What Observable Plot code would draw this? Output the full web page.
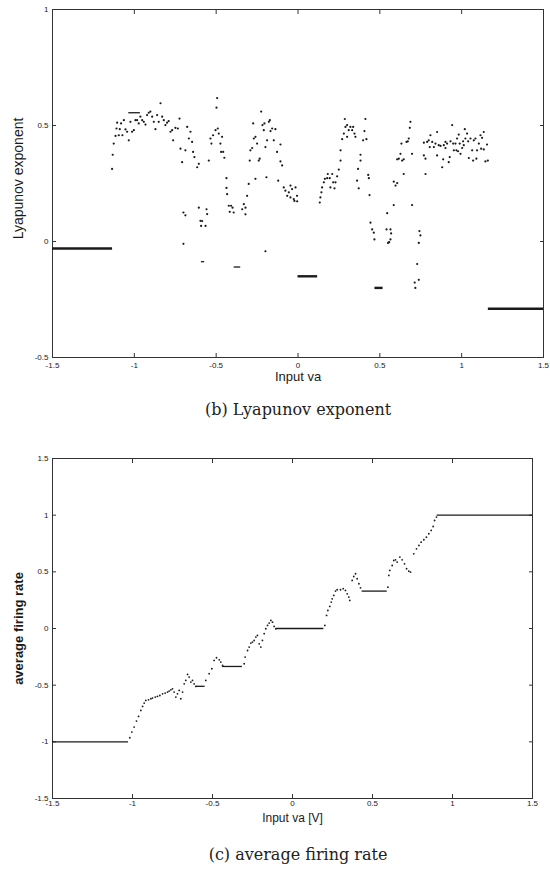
<!DOCTYPE html>
<html><head><meta charset="utf-8">
<script src="https://cdn.jsdelivr.net/npm/d3@7"></script>
<script src="https://cdn.jsdelivr.net/npm/@observablehq/plot@0.6"></script>
<style>
body{margin:0;background:#fff;}
#wrap{position:relative;width:550px;height:876px;overflow:hidden;background:#fff;}
.panel{position:absolute;left:0;}
.cap{position:absolute;left:0;width:596px;text-align:center;font-family:"DejaVu Serif","Liberation Serif",serif;font-size:16px;color:#222;line-height:20px;}
</style></head><body>
<div id="wrap">
  <div class="panel" id="pb" style="top:0"></div>
  <div class="cap" style="top:400px">(b) Lyapunov exponent</div>
  <div class="panel" id="pc" style="top:440px"></div>
  <div class="cap" style="top:845px">(c) average firing rate</div>
</div>
<script>
// ---- data ----
const xTicks = [-1.5, -1, -0.5, 0, 0.5, 1, 1.5];
const lyapTicks = [-0.5, 0, 0.5, 1];
const rateTicks = [-1.5, -1, -0.5, 0, 0.5, 1, 1.5];

// Lyapunov exponent scatter: [input va, exponent]
const lyapPoints = [
[-1.136,0.313],[-1.132,0.374],[-1.126,0.422],[-1.115,0.455],[-1.109,0.487],[-1.105,0.512],
[-1.095,0.458],[-1.089,0.484],[-1.081,0.509],[-1.073,0.458],[-1.064,0.523],[-1.054,0.483],
[-1.044,0.473],[-1.034,0.436],[-1.024,0.516],[-1.014,0.473],[-1.003,0.48],[-0.993,0.523],
[-0.983,0.523],[-0.973,0.509],[-0.963,0.538],[-0.952,0.523],[-0.942,0.516],[-0.932,0.504],
[-0.922,0.545],[-0.912,0.555],[-0.902,0.56],[-0.891,0.538],[-0.881,0.516],[-0.871,0.484],
[-0.861,0.545],[-0.851,0.516],[-0.84,0.596],[-0.83,0.538],[-0.82,0.523],[-0.81,0.502],
[-0.8,0.512],[-0.79,0.519],[-0.779,0.473],[-0.769,0.48],[-0.763,0.436],[-0.749,0.49],
[-0.734,0.487],[-0.724,0.53],[-0.718,0.4],[-0.708,0.342],[-0.70,0.125],[-0.70,-0.01],
[-0.688,0.393],[-0.688,0.113],[-0.677,0.494],[-0.667,0.444],[-0.657,0.473],[-0.647,0.429],
[-0.641,0.386],[-0.633,0.364],[-0.616,0.32],[-0.606,0.335],[-0.606,0.146],[-0.596,0.089],
[-0.592,0.067],[-0.586,0.088],[-0.565,0.067],[-0.559,0.139],[-0.555,0.118],[-0.545,0.349],
[-0.535,0.444],[-0.529,0.422],[-0.519,0.458],[-0.504,0.48],[-0.498,0.577],[-0.494,0.618],
[-0.49,0.487],[-0.484,0.465],[-0.474,0.422],[-0.47,0.386],[-0.464,0.451],[-0.457,0.386],
[-0.45,0.361],[-0.437,0.273],[-0.437,0.231],[-0.433,0.204],[-0.423,0.154],[-0.417,0.128],
[-0.409,0.154],[-0.4,0.146],[-0.393,0.125],[-0.341,0.139],[-0.331,0.161],[-0.321,0.146],
[-0.321,0.117],[-0.311,0.197],[-0.301,0.248],[-0.295,0.349],[-0.291,0.393],[-0.28,0.403],
[-0.274,0.509],[-0.27,0.444],[-0.26,0.451],[-0.26,0.27],[-0.25,0.422],[-0.24,0.349],
[-0.234,0.357],[-0.225,0.56],[-0.217,0.502],[-0.209,0.48],[-0.205,0.509],[-0.199,0.407],
[-0.199,-0.042],[-0.193,0.277],[-0.189,0.436],[-0.178,0.516],[-0.172,0.523],[-0.168,0.476],
[-0.158,0.487],[-0.148,0.436],[-0.138,0.484],[-0.128,0.386],[-0.121,0.262],[-0.107,0.418],
[-0.107,0.345],[-0.097,0.328],[-0.087,0.233],[-0.077,0.219],[-0.066,0.197],[-0.056,0.212],
[-0.046,0.19],[-0.046,0.241],[-0.036,0.226],[-0.026,0.183],[-0.022,0.175],[-0.015,0.233],
[-0.006,0.197],[-0.005,0.173],
[0.133,0.168],[0.137,0.19],[0.143,0.212],[0.147,0.233],[0.158,0.255],[0.164,0.27],
[0.178,0.273],[0.182,0.291],[0.194,0.273],[0.198,0.233],[0.209,0.291],[0.215,0.255],
[0.223,0.229],[0.229,0.255],[0.239,0.281],[0.249,0.31],[0.26,0.349],[0.26,0.393],
[0.27,0.441],[0.28,0.465],[0.286,0.528],[0.29,0.494],[0.3,0.502],[0.3,0.451],
[0.31,0.48],[0.32,0.494],[0.331,0.48],[0.337,0.494],[0.345,0.465],[0.351,0.451],
[0.361,0.262],[0.367,0.313],[0.371,0.229],[0.382,0.374],[0.382,0.349],[0.398,0.436],
[0.406,0.476],[0.412,0.528],[0.418,0.441],[0.429,0.287],[0.433,0.273],[0.437,0.2],
[0.443,0.081],[0.453,0.052],[0.463,0.038],[0.467,0.009],[0.541,0.052],[0.545,0.122],
[0.55,-0.006],[0.557,-0.003],[0.565,0.052],[0.565,0.009],[0.569,0.035],[0.585,0.157],
[0.585,0.258],[0.596,0.241],[0.606,0.252],[0.606,0.354],[0.616,0.357],[0.626,0.378],
[0.632,0.422],[0.636,0.349],[0.646,0.354],[0.646,0.291],[0.663,0.429],[0.671,0.432],
[0.677,0.444],[0.683,0.49],[0.687,0.516],[0.697,0.378],[0.697,0.157],[0.713,-0.177],
[0.717,-0.2],[0.728,-0.097],[0.738,-0.165],[0.738,-0.006],[0.742,0.045],[0.748,0.026],
[0.769,0.371],[0.769,0.426],[0.779,0.357],[0.779,0.291],[0.789,0.429],[0.799,0.436],
[0.805,0.407],[0.809,0.458],[0.82,0.429],[0.83,0.407],[0.84,0.422],[0.85,0.472],
[0.85,0.371],[0.86,0.415],[0.871,0.412],[0.881,0.32],[0.887,0.354],[0.891,0.415],
[0.901,0.429],[0.901,0.403],[0.911,0.422],[0.921,0.342],[0.927,0.364],[0.932,0.432],
[0.942,0.502],[0.948,0.422],[0.952,0.393],[0.962,0.422],[0.968,0.393],[0.972,0.444],
[0.978,0.389],[0.982,0.461],[0.988,0.422],[0.993,0.378],[1.003,0.403],[1.009,0.432],
[1.013,0.415],[1.019,0.484],[1.023,0.444],[1.033,0.465],[1.04,0.432],[1.044,0.36],
[1.054,0.444],[1.064,0.393],[1.07,0.349],[1.074,0.436],[1.084,0.444],[1.09,0.357],
[1.094,0.393],[1.105,0.422],[1.115,0.458],[1.119,0.4],[1.125,0.447],[1.135,0.472],
[1.135,0.397],[1.145,0.345],[1.155,0.418],[1.16,0.349]
];
// flat (periodic) stretches: [from, to, value]
const lyapFlatMain = [[-1.5,-1.133,-0.03],[0,0.12,-0.15],[0.47,0.52,-0.2],[1.163,1.5,-0.29]];
const lyapFlatShort = [[-1.034,-0.963,0.555],[-0.39,-0.35,-0.11],[-0.59,-0.57,-0.087]];

// average firing rate: [input va, rate]
const ratePoints = [
[-1.017,-0.964],[-1.004,-0.914],[-0.99,-0.87],[-0.975,-0.817],[-0.962,-0.776],[-0.948,-0.723],
[-0.937,-0.688],[-0.927,-0.658],[-0.917,-0.635],[-0.9,-0.629],[-0.885,-0.62],[-0.875,-0.614],
[-0.858,-0.605],[-0.844,-0.599],[-0.829,-0.591],[-0.812,-0.576],[-0.796,-0.57],[-0.781,-0.561],
[-0.771,-0.552],[-0.76,-0.541],[-0.75,-0.532],[-0.74,-0.561],[-0.729,-0.605],[-0.719,-0.576],
[-0.708,-0.546],[-0.698,-0.62],[-0.687,-0.561],[-0.677,-0.488],[-0.667,-0.458],[-0.656,-0.405],
[-0.646,-0.429],[-0.635,-0.473],[-0.625,-0.458],[-0.615,-0.488],[-0.604,-0.511],
[-0.542,-0.458],[-0.521,-0.399],[-0.504,-0.355],[-0.49,-0.282],[-0.475,-0.258],[-0.458,-0.276],
[-0.448,-0.296],[-0.437,-0.326],
[-0.302,-0.311],[-0.296,-0.252],[-0.281,-0.194],[-0.271,-0.164],[-0.26,-0.129],[-0.25,-0.12],
[-0.24,-0.105],[-0.229,-0.076],[-0.219,-0.061],[-0.208,-0.135],[-0.198,-0.164],[-0.188,-0.105],
[-0.177,-0.046],[-0.167,-0.002],[-0.156,0.027],[-0.146,0.048],[-0.135,0.071],[-0.125,0.056],
[-0.115,0.018],[-0.104,-0.002],
[0.202,0.027],[0.213,0.115],[0.221,0.159],[0.233,0.195],[0.242,0.233],[0.248,0.262],
[0.258,0.292],[0.269,0.33],[0.279,0.342],[0.3,0.342],[0.317,0.351],[0.331,0.336],
[0.342,0.306],[0.352,0.277],[0.358,0.248],[0.373,0.424],[0.383,0.459],[0.394,0.483],
[0.404,0.439],[0.415,0.395],[0.425,0.359],
[0.596,0.365],[0.602,0.468],[0.608,0.512],[0.623,0.556],[0.633,0.6],[0.644,0.606],
[0.654,0.586],[0.671,0.63],[0.685,0.606],[0.7,0.571],[0.713,0.527],[0.727,0.506],
[0.738,0.498],[0.758,0.659],[0.775,0.703],[0.79,0.733],[0.804,0.762],[0.821,0.783],
[0.837,0.806],[0.852,0.836],[0.867,0.865],[0.879,0.9],[0.888,0.953],[0.9,0.983]
];
const rateFlat = [[-1.5,-1.025,-1.0],[-0.6,-0.546,-0.51],[-0.437,-0.313,-0.335],
                  [-0.1,0.196,0.0],[0.435,0.592,0.33],[0.904,1.5,1.0]];

// ---- drawing ----
const toPts = a => a.map(([x, y]) => ({x, y}));
const toSeg = a => a.map(([x1, x2, y]) => ({x1, x2, y}));
const fmt = d => String(d);
const ink = "#1a1a1a";
const font = "'Liberation Sans', Arial, sans-serif";

function boxAxes(xt, yt, xPad) {
  return [
    Plot.frame({stroke: "#333", strokeWidth: 1}),
    Plot.axisX({anchor: "bottom", ticks: xt, tickSize: -4, tickPadding: xPad, tickFormat: fmt, fontSize: 8, label: null, stroke: "#333", fill: ink}),
    Plot.axisX({anchor: "top", ticks: xt, tickSize: -4, tickFormat: () => "", label: null, stroke: "#333"}),
    Plot.axisY({anchor: "left", ticks: yt, tickSize: -4, tickPadding: 8, tickFormat: fmt, fontSize: 8, label: null, stroke: "#333", fill: ink}),
    Plot.axisY({anchor: "right", ticks: yt, tickSize: -4, tickFormat: () => "", label: null, stroke: "#333"})
  ];
}

const chartB = Plot.plot({
  width: 550, height: 440,
  marginLeft: 52, marginRight: 7, marginTop: 9, marginBottom: 83,
  x: {domain: [-1.5, 1.5]},
  y: {domain: [-0.5, 1]},
  style: {fontFamily: font, background: "transparent", color: ink},
  marks: [
    ...boxAxes(xTicks, lyapTicks, 9),
    Plot.ruleY(toSeg(lyapFlatMain), {y: "y", x1: "x1", x2: "x2", stroke: ink, strokeWidth: 2.4}),
    Plot.ruleY(toSeg(lyapFlatShort), {y: "y", x1: "x1", x2: "x2", stroke: ink, strokeWidth: 1.3}),
    Plot.dot(toPts(lyapPoints), {x: "x", y: "y", r: 1.1, fill: ink, stroke: null}),
    Plot.text(["Input va"], {frameAnchor: "bottom", dy: 23, fontSize: 13, fill: ink}),
    Plot.text(["Lyapunov exponent"], {frameAnchor: "left", textAnchor: "middle", dx: -34, dy: -5, rotate: -90, fontSize: 14, fill: ink})
  ]
});
document.getElementById("pb").appendChild(chartB);

const chartC = Plot.plot({
  width: 550, height: 436,
  marginLeft: 52, marginRight: 18, marginTop: 18, marginBottom: 78,
  x: {domain: [-1.5, 1.5]},
  y: {domain: [-1.5, 1.5]},
  style: {fontFamily: font, background: "transparent", color: ink},
  marks: [
    ...boxAxes(xTicks, rateTicks, 6),
    Plot.ruleY(toSeg(rateFlat), {y: "y", x1: "x1", x2: "x2", stroke: ink, strokeWidth: 1.3}),
    Plot.dot(toPts(ratePoints), {x: "x", y: "y", r: 0.9, fill: ink, stroke: null}),
    Plot.text(["Input va [V]"], {frameAnchor: "bottom", dy: 23, fontSize: 12, fill: ink}),
    Plot.text(["average firing rate"], {frameAnchor: "left", textAnchor: "middle", dx: -34, rotate: -90, fontSize: 13, fontWeight: "bold", fill: ink})
  ]
});
document.getElementById("pc").appendChild(chartC);
</script>
</body></html>
